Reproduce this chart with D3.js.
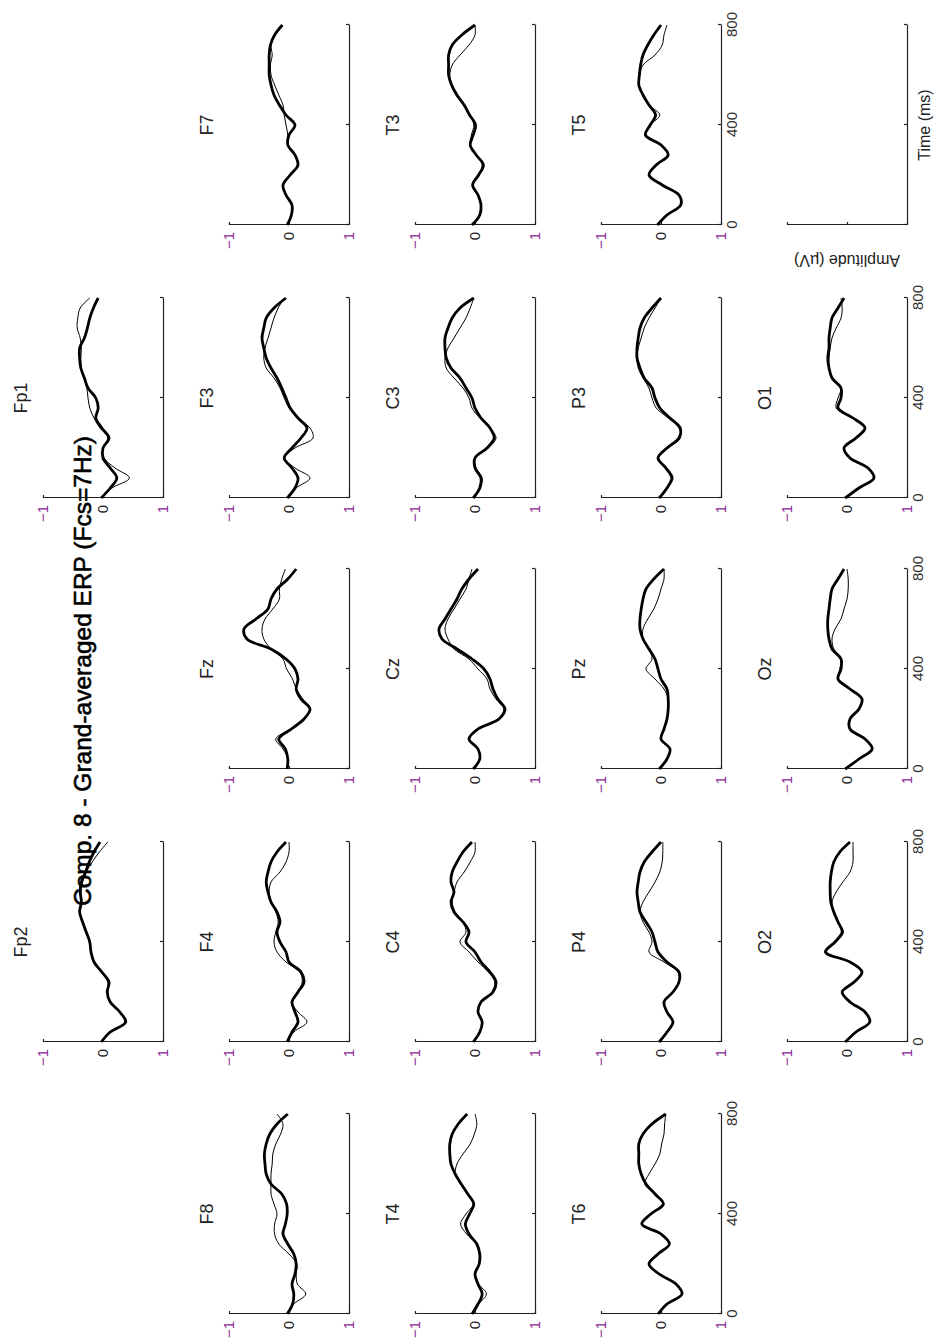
<!DOCTYPE html>
<html>
<head>
<meta charset="utf-8">
<script src="https://cdn.jsdelivr.net/npm/d3@7"></script>
<style>
  body { margin: 0; background: #fff; }
  text { font-family: "Liberation Sans", Arial, sans-serif; }
</style>
</head>
<body>
<svg id="erp" width="940" height="1342"></svg>
<script>
// sample times (ms)
var times = [0, 40, 80, 120, 160, 200, 240, 280, 320, 360, 400, 440, 480, 520, 560, 600, 640, 680, 720, 760, 800]
var ampTicks = [-1, 0, 1]
var timeTicks = [0, 400, 800]

// amplitudes (uV), thick = condition 1, thin = condition 2
var Fp2_thick = [-0.03, 0.12, 0.38, 0.28, 0.12, 0.07, 0.10, -0.02, -0.15, -0.20, -0.22, -0.28, -0.34, -0.39, -0.36, -0.38, -0.36, -0.29, -0.23, -0.15, -0.05]
var Fp2_thin = [-0.03, 0.12, 0.36, 0.27, 0.12, 0.08, 0.08, -0.03, -0.14, -0.20, -0.23, -0.27, -0.33, -0.38, -0.36, -0.37, -0.34, -0.28, -0.18, -0.06, 0.08]
var Fp1_thick = [-0.03, 0.12, 0.23, 0.12, 0.00, 0.00, 0.10, -0.02, -0.12, -0.08, -0.12, -0.25, -0.31, -0.37, -0.39, -0.39, -0.31, -0.26, -0.22, -0.16, -0.08]
var Fp1_thin = [-0.03, 0.15, 0.44, 0.20, 0.02, 0.00, 0.08, -0.05, -0.15, -0.22, -0.25, -0.27, -0.32, -0.36, -0.37, -0.36, -0.38, -0.43, -0.42, -0.38, -0.22]
var F8_thick = [-0.03, 0.06, 0.08, 0.05, 0.10, 0.12, 0.08, -0.02, -0.10, -0.06, -0.03, -0.04, -0.12, -0.30, -0.38, -0.40, -0.41, -0.38, -0.32, -0.20, -0.02]
var F8_thin = [-0.03, 0.08, 0.28, 0.14, 0.12, 0.13, 0.00, -0.17, -0.24, -0.24, -0.20, -0.25, -0.30, -0.30, -0.30, -0.28, -0.27, -0.22, -0.14, -0.10, -0.20]
var F4_thick = [-0.03, 0.05, 0.15, 0.10, 0.05, 0.15, 0.25, 0.20, 0.00, -0.05, -0.15, -0.20, -0.15, -0.20, -0.30, -0.35, -0.38, -0.35, -0.30, -0.20, -0.05]
var F4_thin = [-0.03, 0.08, 0.30, 0.15, 0.05, 0.15, 0.22, 0.18, -0.05, -0.20, -0.25, -0.22, -0.18, -0.22, -0.30, -0.33, -0.30, -0.15, -0.05, 0.00, 0.00]
var Fz_thick = [-0.03, -0.02, -0.06, -0.17, 0.04, 0.25, 0.35, 0.20, 0.12, 0.15, 0.10, -0.05, -0.30, -0.70, -0.75, -0.55, -0.35, -0.30, -0.20, -0.02, 0.12]
var Fz_thin = [-0.03, -0.02, -0.10, -0.22, 0.02, 0.25, 0.35, 0.23, 0.12, 0.06, -0.04, -0.10, -0.30, -0.42, -0.45, -0.40, -0.27, -0.16, -0.16, -0.12, -0.06]
var F3_thick = [-0.03, 0.10, 0.15, 0.05, -0.08, 0.05, 0.20, 0.30, 0.15, 0.02, -0.05, -0.12, -0.20, -0.30, -0.38, -0.42, -0.45, -0.42, -0.38, -0.25, -0.05]
var F3_thin = [-0.03, 0.12, 0.35, 0.10, -0.08, 0.10, 0.40, 0.35, 0.15, 0.00, -0.08, -0.15, -0.25, -0.38, -0.42, -0.40, -0.35, -0.30, -0.25, -0.18, -0.08]
var F7_thick = [-0.03, 0.04, 0.05, -0.05, -0.10, 0.02, 0.15, 0.10, -0.02, 0.00, 0.10, -0.05, -0.16, -0.25, -0.30, -0.33, -0.33, -0.33, -0.31, -0.24, -0.11]
var F7_thin = [-0.03, 0.04, 0.05, -0.05, -0.10, 0.02, 0.14, 0.09, -0.02, -0.02, -0.05, -0.08, -0.10, -0.17, -0.24, -0.30, -0.31, -0.28, -0.30, -0.24, -0.11]
var T4_thick = [-0.05, 0.05, 0.12, 0.05, 0.00, 0.07, 0.08, 0.03, -0.10, -0.16, -0.09, -0.02, -0.12, -0.23, -0.33, -0.40, -0.42, -0.42, -0.38, -0.28, -0.13]
var T4_thin = [-0.05, 0.06, 0.19, 0.06, -0.01, 0.06, 0.07, 0.02, -0.14, -0.24, -0.15, -0.03, -0.12, -0.23, -0.33, -0.30, -0.20, -0.08, -0.01, 0.03, 0.00]
var C4_thick = [-0.03, 0.08, 0.12, 0.05, 0.10, 0.30, 0.35, 0.25, 0.10, 0.00, -0.15, -0.10, -0.20, -0.35, -0.40, -0.35, -0.40, -0.38, -0.30, -0.20, -0.05]
var C4_thin = [-0.03, 0.08, 0.12, 0.05, 0.10, 0.28, 0.33, 0.22, 0.05, -0.10, -0.25, -0.15, -0.20, -0.33, -0.38, -0.35, -0.30, -0.18, -0.08, 0.00, 0.00]
var Cz_thick = [-0.03, 0.08, 0.05, -0.10, 0.05, 0.40, 0.50, 0.38, 0.30, 0.25, 0.15, -0.05, -0.30, -0.55, -0.60, -0.50, -0.40, -0.30, -0.22, -0.10, 0.05]
var Cz_thin = [-0.03, 0.08, 0.05, -0.10, 0.05, 0.38, 0.48, 0.35, 0.25, 0.20, 0.05, -0.10, -0.35, -0.45, -0.50, -0.45, -0.35, -0.25, -0.15, -0.10, -0.05]
var C3_thick = [-0.03, 0.08, 0.10, 0.00, 0.00, 0.20, 0.32, 0.25, 0.10, 0.00, -0.05, -0.15, -0.25, -0.40, -0.48, -0.50, -0.50, -0.45, -0.38, -0.25, -0.02]
var C3_thin = [-0.03, 0.08, 0.12, 0.02, 0.00, 0.22, 0.35, 0.25, 0.08, -0.05, -0.10, -0.20, -0.35, -0.48, -0.50, -0.45, -0.35, -0.25, -0.15, -0.08, -0.02]
var T3_thick = [-0.05, 0.08, 0.10, 0.05, -0.04, 0.06, 0.14, 0.02, -0.08, -0.03, 0.01, -0.09, -0.18, -0.30, -0.39, -0.44, -0.44, -0.44, -0.38, -0.22, 0.00]
var T3_thin = [-0.05, 0.08, 0.10, 0.05, -0.04, 0.06, 0.12, 0.02, -0.08, -0.06, -0.02, -0.09, -0.20, -0.32, -0.40, -0.42, -0.38, -0.25, -0.10, 0.00, 0.00]
var T6_thick = [-0.05, 0.10, 0.35, 0.25, -0.03, -0.20, -0.05, 0.14, 0.00, -0.32, -0.17, 0.04, -0.10, -0.25, -0.33, -0.37, -0.37, -0.37, -0.30, -0.15, 0.08]
var T6_thin = [-0.05, 0.10, 0.35, 0.25, -0.03, -0.20, -0.05, 0.14, 0.00, -0.32, -0.17, 0.04, -0.10, -0.27, -0.20, -0.10, -0.02, 0.01, 0.05, 0.06, 0.08]
var P4_thick = [-0.03, 0.10, 0.20, 0.10, 0.05, 0.20, 0.30, 0.30, 0.10, -0.05, -0.10, -0.15, -0.25, -0.35, -0.38, -0.40, -0.38, -0.35, -0.28, -0.15, 0.00]
var P4_thin = [-0.03, 0.10, 0.20, 0.10, 0.05, 0.20, 0.30, 0.28, 0.05, -0.20, -0.15, -0.20, -0.30, -0.35, -0.30, -0.20, -0.10, -0.02, 0.02, 0.03, 0.03]
var Pz_thick = [-0.03, 0.10, 0.15, 0.00, 0.05, 0.10, 0.12, 0.12, 0.10, 0.00, -0.05, -0.10, -0.20, -0.30, -0.35, -0.35, -0.33, -0.30, -0.25, -0.12, 0.05]
var Pz_thin = [-0.03, 0.10, 0.15, 0.00, 0.05, 0.10, 0.12, 0.12, 0.05, -0.10, -0.25, -0.15, -0.20, -0.30, -0.30, -0.22, -0.12, -0.05, 0.00, 0.05, 0.05]
var P3_thick = [-0.03, 0.10, 0.18, 0.08, -0.05, 0.10, 0.30, 0.32, 0.15, -0.02, -0.10, -0.15, -0.28, -0.35, -0.40, -0.40, -0.38, -0.35, -0.28, -0.15, 0.00]
var P3_thin = [-0.03, 0.10, 0.20, 0.10, -0.05, 0.12, 0.32, 0.30, 0.12, -0.08, -0.15, -0.20, -0.30, -0.38, -0.40, -0.38, -0.33, -0.28, -0.20, -0.10, 0.00]
var T5_thick = [-0.06, 0.10, 0.33, 0.30, 0.02, -0.20, -0.08, 0.12, 0.00, -0.26, -0.18, -0.09, -0.20, -0.30, -0.37, -0.36, -0.34, -0.30, -0.22, -0.12, 0.00]
var T5_thin = [-0.06, 0.10, 0.33, 0.30, 0.02, -0.20, -0.08, 0.12, 0.00, -0.26, -0.18, -0.02, -0.20, -0.30, -0.37, -0.36, -0.30, -0.10, 0.02, 0.05, 0.10]
var O2_thick = [-0.03, 0.15, 0.38, 0.30, 0.05, -0.08, 0.12, 0.25, 0.05, -0.36, -0.20, -0.08, -0.15, -0.22, -0.27, -0.28, -0.28, -0.26, -0.22, -0.12, 0.05]
var O2_thin = [-0.03, 0.15, 0.38, 0.30, 0.05, -0.08, 0.12, 0.25, 0.05, -0.34, -0.18, -0.06, -0.15, -0.22, -0.25, -0.18, -0.07, 0.05, 0.10, 0.10, 0.10]
var Oz_thick = [-0.03, 0.20, 0.42, 0.30, 0.05, 0.05, 0.20, 0.25, 0.05, -0.15, -0.10, -0.10, -0.25, -0.30, -0.32, -0.32, -0.30, -0.28, -0.25, -0.15, -0.05]
var Oz_thin = [-0.03, 0.20, 0.42, 0.30, 0.05, 0.05, 0.20, 0.25, 0.05, -0.15, -0.12, -0.10, -0.22, -0.25, -0.20, -0.10, -0.05, 0.00, 0.02, 0.02, 0.00]
var O1_thick = [-0.03, 0.20, 0.45, 0.35, 0.05, -0.05, 0.15, 0.30, 0.10, -0.15, -0.10, -0.10, -0.25, -0.30, -0.32, -0.30, -0.30, -0.28, -0.25, -0.15, -0.05]
var O1_thin = [-0.03, 0.20, 0.45, 0.35, 0.05, -0.05, 0.15, 0.30, 0.10, -0.18, -0.15, -0.10, -0.25, -0.30, -0.30, -0.28, -0.25, -0.18, -0.10, -0.08, -0.10]

var titleText = "Comp. 8 - Grand-averaged ERP (Fcs=7Hz)"

// channel table (grid position col,row on the unrotated figure)
var channels = [
  { name: "Fp2", col: 1, row: 0, a: Fp2_thick, b: Fp2_thin },
  { name: "Fp1", col: 3, row: 0, a: Fp1_thick, b: Fp1_thin },
  { name: "F8", col: 0, row: 1, a: F8_thick, b: F8_thin },
  { name: "F4", col: 1, row: 1, a: F4_thick, b: F4_thin },
  { name: "Fz", col: 2, row: 1, a: Fz_thick, b: Fz_thin },
  { name: "F3", col: 3, row: 1, a: F3_thick, b: F3_thin },
  { name: "F7", col: 4, row: 1, a: F7_thick, b: F7_thin },
  { name: "T4", col: 0, row: 2, a: T4_thick, b: T4_thin },
  { name: "C4", col: 1, row: 2, a: C4_thick, b: C4_thin },
  { name: "Cz", col: 2, row: 2, a: Cz_thick, b: Cz_thin },
  { name: "C3", col: 3, row: 2, a: C3_thick, b: C3_thin },
  { name: "T3", col: 4, row: 2, a: T3_thick, b: T3_thin },
  { name: "T6", col: 0, row: 3, a: T6_thick, b: T6_thin, xlab: true },
  { name: "P4", col: 1, row: 3, a: P4_thick, b: P4_thin },
  { name: "Pz", col: 2, row: 3, a: Pz_thick, b: Pz_thin },
  { name: "P3", col: 3, row: 3, a: P3_thick, b: P3_thin },
  { name: "T5", col: 4, row: 3, a: T5_thick, b: T5_thin, xlab: true },
  { name: "O2", col: 1, row: 4, a: O2_thick, b: O2_thin, xlab: true },
  { name: "Oz", col: 2, row: 4, a: Oz_thick, b: Oz_thin, xlab: true },
  { name: "O1", col: 3, row: 4, a: O1_thick, b: O1_thin, xlab: true }
]

var W = 1342, H = 940,   // figure size before rotation
  pw = 200, ph = 120,
  colX = [28, 300, 573, 844, 1117],
  rowY = [43, 229, 415, 601, 787]

var svg = d3.select("#erp")

// whole figure is drawn landscape and turned a quarter counter-clockwise
var fig = svg.append("g")
  .attr("transform", "translate(0," + W + ") rotate(-90)")

var x = d3.scaleLinear().domain([0, 800]).range([0, pw])
var y = d3.scaleLinear().domain([-1, 1]).range([0, ph])   // negative up

var line = d3.line()
  .x(function (d) { return x(d[0]) })
  .y(function (d) { return y(d[1]) })
  .curve(d3.curveCatmullRom.alpha(0.5))

function drawAxes(g, showX, showY) {
  var ya = g.append("g")
    .attr("class", "yaxis")
    .call(d3.axisLeft(y).tickValues(ampTicks).tickSizeInner(-3).tickSizeOuter(0).tickPadding(7)
      .tickFormat(showY ? d3.format("d") : ""))
  var xa = g.append("g")
    .attr("class", "xaxis")
    .attr("transform", "translate(0," + ph + ")")
    .call(d3.axisBottom(x).tickValues(timeTicks).tickSizeInner(-3).tickSizeOuter(0).tickPadding(5)
      .tickFormat(showX ? d3.format("d") : ""))
  g.selectAll(".domain, .tick line").attr("stroke", "#222").attr("stroke-width", 1.2)
  ya.selectAll("text").attr("font-size", 15)
    .attr("fill", function (d) { return d === 0 ? "#222" : "#8a2a96" })
  xa.selectAll("text").attr("font-size", 15).attr("fill", "#333")
}

channels.forEach(function (ch) {
  var g = fig.append("g")
    .attr("transform", "translate(" + colX[ch.col] + "," + rowY[ch.row] + ")")

  drawAxes(g, !!ch.xlab, true)

  g.append("text")
    .attr("x", pw / 2)
    .attr("y", -16)
    .attr("text-anchor", "middle")
    .attr("font-size", 18)
    .attr("fill", "#222")
    .text(ch.name)

  var thin = times.map(function (t, i) { return [t, ch.b[i]] })
  var thick = times.map(function (t, i) { return [t, ch.a[i]] })

  g.append("path").attr("d", line(thin))
    .attr("fill", "none").attr("stroke", "#000").attr("stroke-width", 1)
  g.append("path").attr("d", line(thick))
    .attr("fill", "none").attr("stroke", "#000").attr("stroke-width", 2.8)
})

// key axes
var key = fig.append("g")
  .attr("transform", "translate(" + colX[4] + "," + rowY[4] + ")")
drawAxes(key, false, false)
key.append("text")
  .attr("transform", "translate(-30," + (ph / 2) + ") rotate(-90)")
  .attr("text-anchor", "middle")
  .attr("font-size", 16)
  .attr("fill", "#222")
  .text("Amplitude (\u00b5V)")
key.append("text")
  .attr("x", pw / 2)
  .attr("y", ph + 12)
  .attr("dy", "0.71em")
  .attr("text-anchor", "middle")
  .attr("font-size", 16)
  .attr("fill", "#222")
  .text("Time (ms)")

fig.append("text")
  .attr("x", W / 2)
  .attr("y", 91)
  .attr("text-anchor", "middle")
  .attr("font-size", 24.5)
  .attr("fill", "#000")
  .attr("stroke", "#000")
  .attr("stroke-width", 0.6)
  .text(titleText)
</script>
</body>
</html>
